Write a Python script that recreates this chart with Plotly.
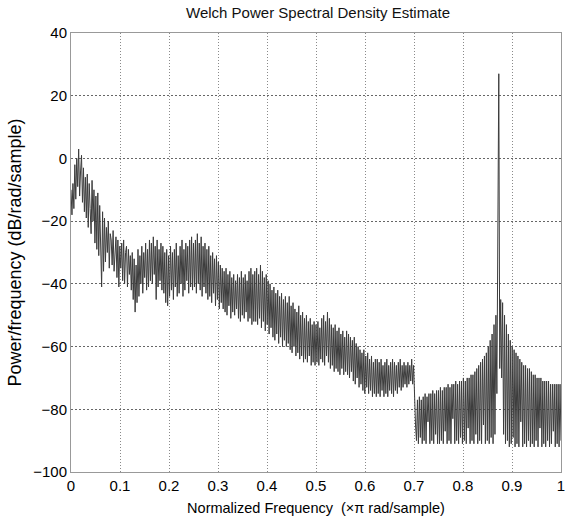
import plotly.graph_objects as go

# Frequency grid (normalized, x pi rad/sample): 513 bins from 0 to 1
n_bins = 513
freq = [k / 512 for k in range(n_bins)]

# PSD values in dB/rad/sample (32 bins per row)
psd_db = [
    -10, -18, -8, -16, -2, -13, 0, -9, 3, -12, -4, 1, -14, -3, -17, -6, -19, -5, -22, -8, -16, -24, -7, -20, -10, -27, -12, -29, -11, -31, -15, -33,
    -41, -17, -36, -19, -33, -22, -30, -20, -35, -24, -26, -34, -23, -36, -27, -25, -38, -26, -41, -28, -35, -27, -39, -26, -40, -30, -28, -41, -29, -37, -31, -42,
    -30, -45, -32, -49, -34, -46, -29, -44, -31, -40, -28, -43, -30, -38, -27, -42, -29, -41, -26, -39, -27, -40, -25, -37, -28, -45, -26, -41, -29, -39, -27, -42,
    -28, -43, -30, -46, -29, -47, -31, -44, -28, -42, -30, -45, -29, -41, -27, -44, -31, -43, -28, -40, -26, -44, -29, -42, -27, -39, -28, -43, -26, -41, -25, -42,
    -27, -41, -26, -43, -24, -40, -27, -42, -25, -44, -28, -41, -27, -43, -29, -45, -28, -44, -31, -46, -30, -43, -32, -47, -31, -45, -33, -48, -34, -46, -35, -48,
    -36, -49, -35, -50, -37, -47, -36, -51, -38, -49, -37, -50, -39, -48, -37, -51, -38, -52, -36, -50, -38, -51, -37, -49, -39, -52, -36, -51, -35, -53, -37, -52,
    -36, -52, -35, -53, -37, -51, -34, -54, -36, -52, -38, -55, -37, -53, -39, -56, -40, -54, -42, -57, -41, -58, -43, -56, -42, -59, -44, -57, -43, -60, -45, -58,
    -44, -60, -46, -59, -44, -61, -47, -62, -46, -60, -48, -63, -49, -62, -47, -64, -50, -63, -49, -65, -51, -64, -50, -65, -52, -63, -51, -66, -53, -65, -52, -66,
    -53, -65, -52, -66, -54, -64, -51, -65, -50, -66, -52, -63, -49, -65, -51, -67, -53, -66, -54, -68, -53, -67, -55, -68, -54, -69, -56, -67, -55, -69, -57, -68,
    -55, -69, -56, -70, -57, -68, -58, -71, -57, -72, -59, -70, -60, -73, -61, -72, -62, -74, -61, -75, -63, -73, -62, -75, -64, -74, -63, -76, -65, -75, -64, -76,
    -64, -75, -65, -76, -64, -74, -66, -76, -65, -75, -64, -76, -66, -74, -65, -75, -64, -76, -65, -74, -66, -75, -65, -73, -64, -74, -66, -73, -65, -72, -66, -73,
    -65, -72, -66, -71, -64, -72, -66, -79, -85, -90, -77, -91, -76, -89, -77, -91, -76, -90, -75, -91, -76, -84, -75, -91, -75, -90, -74, -91, -75, -88, -74, -91,
    -74, -91, -73, -90, -74, -91, -73, -87, -73, -91, -72, -90, -73, -91, -72, -83, -72, -91, -71, -90, -72, -91, -71, -89, -71, -91, -70, -90, -71, -91, -70, -86,
    -70, -91, -69, -90, -69, -91, -68, -88, -67, -91, -66, -90, -65, -91, -64, -85, -63, -91, -62, -90, -60, -91, -58, -89, -56, -91, -53, -88, -50, -75, -30, 27,
    -67, -45, -70, -46, -88, -50, -91, -53, -90, -56, -92, -58, -91, -60, -89, -61, -92, -62, -91, -63, -92, -64, -84, -65, -92, -66, -91, -66, -92, -67, -90, -67,
    -92, -68, -91, -69, -92, -69, -90, -70, -92, -70, -86, -70, -92, -71, -91, -71, -92, -71, -90, -71, -92, -72, -91, -72, -87, -72, -92, -72, -91, -72, -92, -72,
    -90,
]

x_ticks = [0, 0.1, 0.2, 0.3, 0.4, 0.5, 0.6, 0.7, 0.8, 0.9, 1]
x_tick_text = ["0", "0.1", "0.2", "0.3", "0.4", "0.5", "0.6", "0.7", "0.8", "0.9", "1"]
y_ticks = [-100, -80, -60, -40, -20, 0, 20, 40]

fig = go.Figure()
fig.add_trace(go.Scatter(
    x=freq[:len(psd_db)], y=psd_db, mode="lines",
    line=dict(color="#3c3c3c", width=1),
    showlegend=False, hoverinfo="skip",
))

font_family = "Liberation Sans, Arial, sans-serif"

fig.update_layout(
    width=570, height=521,
    margin=dict(l=71, r=5, t=33, b=49),
    paper_bgcolor="white", plot_bgcolor="white",
    font=dict(family=font_family, size=14, color="black"),
    title=dict(text="Welch Power Spectral Density Estimate",
               x=0.558, xanchor="center", y=0.975, yanchor="middle",
               font=dict(size=15, family=font_family, color="#111111")),
)
fig.update_xaxes(
    range=[0, 1], tickvals=x_ticks, ticktext=x_tick_text,
    showgrid=True, gridcolor="#8a8a8a", griddash="1px,2px", gridwidth=1,
    showline=True, linecolor="#999999", linewidth=1, mirror=True,
    ticks="", zeroline=False,
    tickfont=dict(size=15),
    title=dict(text="Normalized Frequency  (×π rad/sample)", font=dict(size=14.5), standoff=9),
)
fig.update_yaxes(
    range=[-100, 40], tickvals=y_ticks,
    showgrid=True, gridcolor="#666666", griddash="2px,2px", gridwidth=1,
    showline=True, linecolor="#999999", linewidth=1, mirror=True,
    ticks="", zeroline=False,
    tickfont=dict(size=15),
    title=dict(text="Power/frequency (dB/rad/sample)", font=dict(size=18), standoff=6),
)

fig.write_html("out.html")
